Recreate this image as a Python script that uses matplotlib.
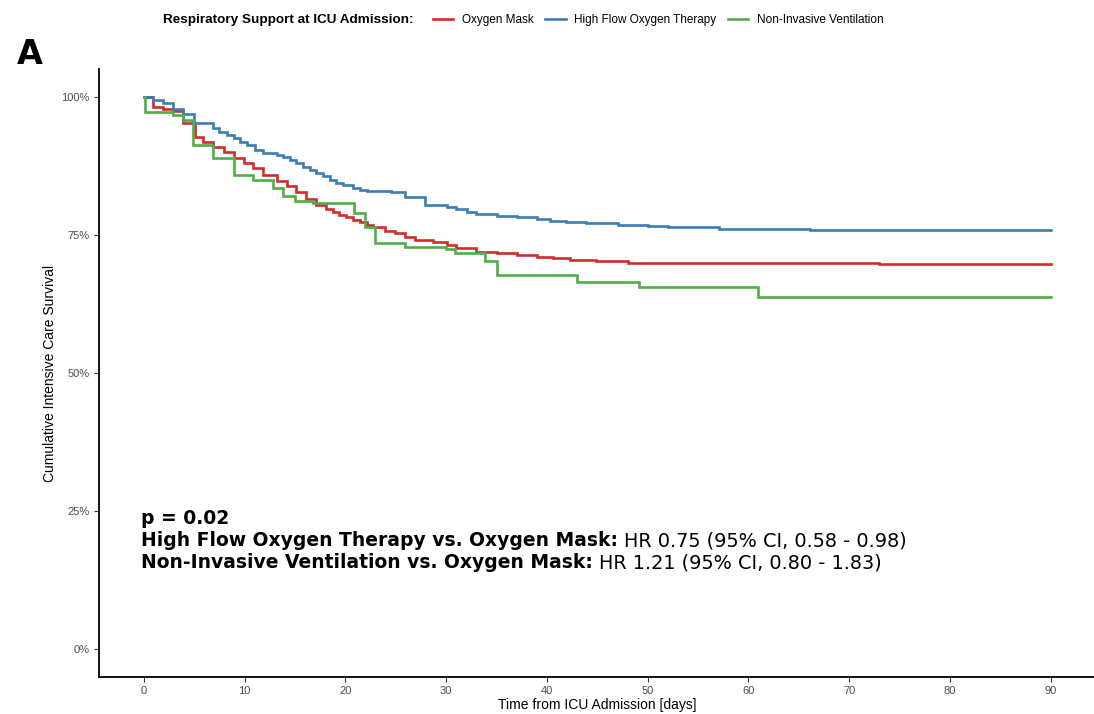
import matplotlib
matplotlib.use("Agg")
import matplotlib.pyplot as plt
from matplotlib.ticker import FuncFormatter

# ---- data ----
mask_t = [0, 0.9, 1.9, 2.9, 3.9, 5.1, 5.9, 6.9, 7.9, 8.9, 9.9, 10.8, 11.8, 13.2, 14.2,
          15.1, 16.1, 17.1, 18.1, 18.8, 19.4, 20.1, 20.8, 21.4, 22.1, 22.7, 23.9, 24.9,
          25.9, 26.9, 28.7, 30.1, 31.0, 33.0, 35.0, 37.0, 39.0, 40.6, 42.3, 44.9, 48.0,
          73.0, 90]
mask_s = [100, 98.2, 97.8, 97.5, 95.2, 92.8, 91.9, 91.0, 90.1, 88.9, 88.0, 87.1, 85.9,
          84.7, 83.8, 82.8, 81.6, 80.4, 79.8, 79.2, 78.6, 78.3, 77.7, 77.4, 76.8, 76.5,
          75.8, 75.3, 74.7, 74.1, 73.8, 73.2, 72.6, 72.0, 71.7, 71.4, 71.1, 70.8, 70.5,
          70.2, 70.0, 69.7, 69.7]

hfot_t = [0, 0.9, 1.9, 2.9, 3.9, 5.0, 6.9, 7.5, 8.2, 8.9, 9.5, 10.2, 11.0, 11.8, 13.2,
          13.8, 14.5, 15.1, 15.8, 16.5, 17.1, 17.8, 18.5, 19.1, 19.8, 20.8, 21.4, 22.1,
          24.5, 25.9, 27.9, 30.1, 31.0, 32.1, 33.0, 35.0, 37.0, 39.0, 40.3, 41.9, 43.9,
          47.1, 50.0, 52.0, 57.1, 66.1, 90]
hfot_s = [100, 99.5, 98.9, 97.9, 97.0, 95.2, 94.3, 93.7, 93.1, 92.5, 91.9, 91.3, 90.4,
          89.8, 89.5, 89.2, 88.6, 88.0, 87.4, 86.8, 86.2, 85.6, 85.0, 84.4, 84.1, 83.5,
          83.2, 83.0, 82.7, 81.9, 80.4, 80.1, 79.8, 79.2, 78.8, 78.5, 78.2, 77.9, 77.6,
          77.3, 77.1, 76.8, 76.6, 76.4, 76.1, 75.9, 75.9]

niv_t = [0, 0.1, 2.9, 3.9, 4.9, 6.9, 8.9, 10.8, 12.8, 13.8, 15.0, 16.8, 20.9, 21.9,
         22.9, 25.9, 30.0, 30.9, 33.9, 35.0, 43.0, 49.1, 61.0, 90]
niv_s = [100, 97.3, 96.7, 95.8, 91.3, 88.9, 85.9, 85.0, 83.5, 82.0, 81.1, 80.8, 78.9,
         76.5, 73.6, 72.9, 72.4, 71.8, 70.2, 67.8, 66.4, 65.5, 63.8, 63.8]

groups = ["Oxygen Mask", "High Flow Oxygen Therapy", "Non-Invasive Ventilation"]
colors = ["#D42A2C", "#3D7DB4", "#52AD48"]

x_ticks = [0, 10, 20, 30, 40, 50, 60, 70, 80, 90]
y_ticks = [0, 25, 50, 75, 100]

legend_title = "Respiratory Support at ICU Admission:"
p_text = "p = 0.02"
hr_bold = ["High Flow Oxygen Therapy vs. Oxygen Mask:",
           "Non-Invasive Ventilation vs. Oxygen Mask:"]
hr_reg = ["HR 0.75 (95% CI, 0.58 - 0.98)",
          "HR 1.21 (95% CI, 0.80 - 1.83)"]

# ---- figure ----
W, H = 1094, 714
fig = plt.figure(figsize=(W / 100, H / 100), dpi=100)
ax = fig.add_axes([98.6 / W, 37.4 / H, (1096 - 98.6) / W, (676.6 - 69.4) / H])

series = [(mask_t, mask_s), (hfot_t, hfot_s), (niv_t, niv_s)]
handles = []
for (t, s), name, c in zip(series, groups, colors):
    h, = ax.step(t, s, where="post", color=c, lw=1.9, label=name, solid_joinstyle="miter")
    handles.append(h)

ax.set_xlim(-4.5, 94.5)
ax.set_ylim(-5, 105)
ax.set_xticks(x_ticks)
ax.set_yticks(y_ticks)
ax.yaxis.set_major_formatter(FuncFormatter(lambda v, p: f"{int(v)}%"))

for side in ["top", "right"]:
    ax.spines[side].set_visible(False)
for side in ["left", "bottom"]:
    ax.spines[side].set_linewidth(1.3)
    ax.spines[side].set_color("black")

sans = ["Liberation Sans", "DejaVu Sans"]
ax.tick_params(axis="both", length=3.5, width=0.8, color="#333333",
               labelcolor="#4D4D4D", labelsize=8, pad=3)
for lab in ax.get_xticklabels() + ax.get_yticklabels():
    lab.set_family(sans)

ax.set_xlabel("Time from ICU Admission [days]", fontsize=10, family=sans, labelpad=2)
ax.set_ylabel("Cumulative Intensive Care Survival", fontsize=10, family=sans, labelpad=3)

# legend on top
fig.text(163 / W, 1 - 20 / H, legend_title, fontsize=9.7, fontweight="bold",
         family=sans, ha="left", va="center")
leg = fig.legend(handles=handles, labels=groups, loc="center left",
                 bbox_to_anchor=(433 / W, 1 - 20 / H), ncol=3, frameon=False,
                 prop={"family": sans, "size": 8.5}, handlelength=1.7,
                 handletextpad=0.75, columnspacing=1.0, borderpad=0, borderaxespad=0)

# panel letter
fig.text(17 / W, 1 - 54 / H, "A", fontsize=24, fontweight="bold",
         family="DejaVu Sans", ha="left", va="center")

# annotation block
x0 = -0.3
ax.text(x0, 23.6, p_text, fontsize=13.5, fontweight="bold", family="DejaVu Sans",
        ha="left", va="center")
fig.canvas.draw()
renderer = fig.canvas.get_renderer()
for i, (b, r) in enumerate(zip(hr_bold, hr_reg)):
    yv = 19.6 - 4.0 * i
    tb = ax.text(x0, yv, b, fontsize=13.5, fontweight="bold", family="DejaVu Sans",
                 ha="left", va="center")
    bb = tb.get_window_extent(renderer=renderer)
    xr_disp = bb.x1 + 6
    xr_data = ax.transData.inverted().transform((xr_disp, 0))[0]
    ax.text(xr_data, yv, r, fontsize=13.9, family="DejaVu Sans", ha="left", va="center")

fig.savefig("out.png", dpi=100)
